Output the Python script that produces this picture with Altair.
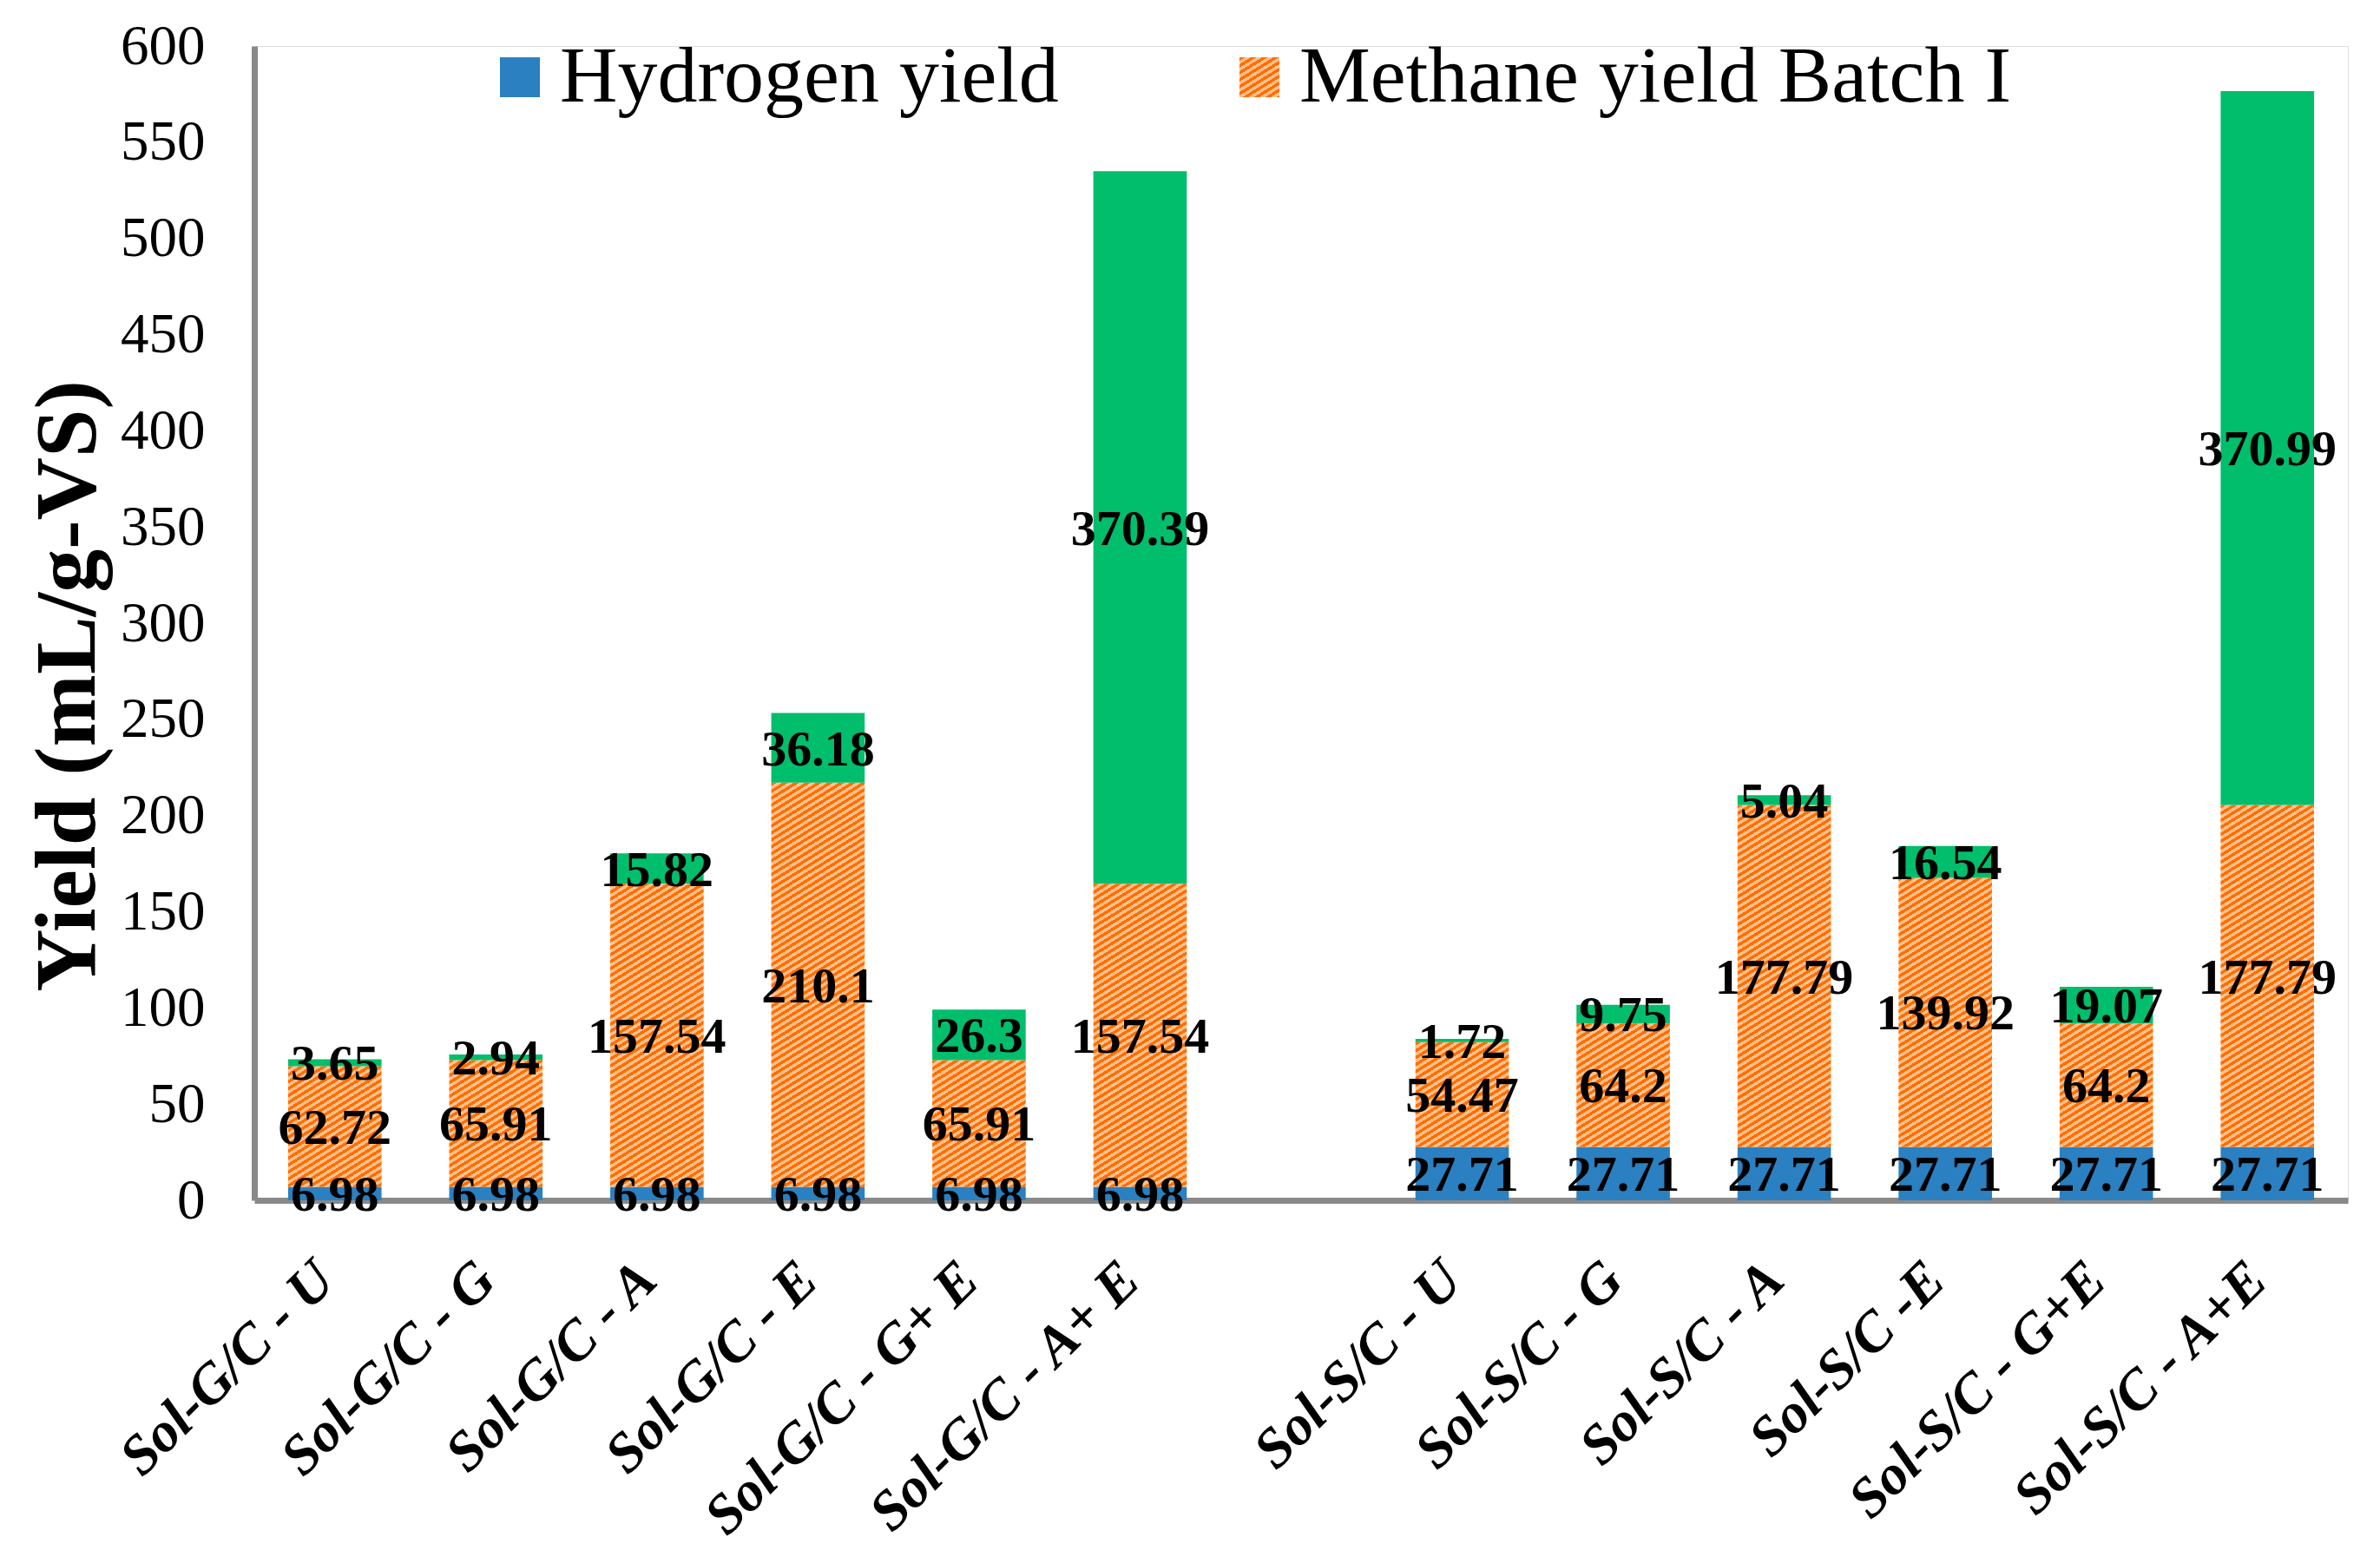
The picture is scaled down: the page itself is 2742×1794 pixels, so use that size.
import json
import altair as alt
import pandas as pd

# ---- data ----
categories = ["Sol-G/C - U", "Sol-G/C - G", "Sol-G/C - A", "Sol-G/C - E",
              "Sol-G/C - G+ E", "Sol-G/C - A+ E",
              "Sol-S/C - U", "Sol-S/C - G", "Sol-S/C - A", "Sol-S/C -E",
              "Sol-S/C - G+E", "Sol-S/C - A+E"]
hydrogen = [6.98, 6.98, 6.98, 6.98, 6.98, 6.98,
            27.71, 27.71, 27.71, 27.71, 27.71, 27.71]
methane_1 = [62.72, 65.91, 157.54, 210.1, 65.91, 157.54,
             54.47, 64.2, 177.79, 139.92, 64.2, 177.79]
methane_2 = [3.65, 2.94, 15.82, 36.18, 26.3, 370.39,
             1.72, 9.75, 5.04, 16.54, 19.07, 370.99]
y_ticks = [0, 50, 100, 150, 200, 250, 300, 350, 400, 450, 500, 550, 600]
legend_labels = ["Hydrogen yield", "Methane yield Batch I"]

df = pd.DataFrame({"cat": categories, "h": hydrogen, "m1": methane_1, "m2": methane_2})
domain = categories[:6] + [" "] + categories[6:]

# ---- style ----
FONT = "Liberation Serif"
BLUE = "#2A80C0"
GREEN = "#00BE6B"
DARK = "#FF6E00"
LIGHT = "#FFC18C"
AXIS_GREY = "#898989"

W, H = 2412, 1330
PXU = H / 600.0
BW = (W / 13.0) * 0.58
PX, PY = 13.0, 8.0      # stripe period along x and along y (pixels)
NCYC = 80

stops = []
for i in range(NCYC):
    a, b, c = i / NCYC, (i + 0.5) / NCYC, (i + 1) / NCYC
    stops += [{"offset": round(a, 5), "color": DARK}, {"offset": round(b, 5), "color": DARK},
              {"offset": round(b, 5), "color": LIGHT}, {"offset": round(c, 5), "color": LIGHT}]
STOPS = json.dumps(stops)
KF = PXU * PX / (BW * PY)          # k = m1 * KF
SF = NCYC * PX / BW                # s = SF / (1 + k^2)
grad_expr = (
    "{gradient: 'linear', x1: 0, y1: 0, "
    f"x2: {SF} / (1 + pow(datum.m1 * {KF}, 2)), "
    f"y2: {SF} * datum.m1 * {KF} / (1 + pow(datum.m1 * {KF}, 2)), "
    f"stops: {STOPS}}}"
)
LS = 46.0
KL = PX / PY
SL = NCYC * PX / (LS * (1 + KL * KL))
legend_grad_expr = f"{{gradient: 'linear', x1: 0, y1: 0, x2: {SL}, y2: {SL * KL}, stops: {STOPS}}}"

xenc = alt.X(
    "cat:N",
    scale=alt.Scale(domain=domain, paddingInner=0.42, paddingOuter=0.21),
    title=None,
    axis=alt.Axis(
        labelAngle=315, labelAlign="right", labelBaseline="alphabetic",
        labelPadding=95, labelOffset=3, ticks=False, tickSize=0,
        domainColor=AXIS_GREY, domainWidth=7, labelFont=FONT, labelFontSize=65,
        labelFontWeight="bold", labelFontStyle="italic", labelColor="black",
        labelLimit=3000, labelOverlap=False, labelBound=False, zindex=0,
    ),
)


def yenc(field):
    return alt.Y(
        field,
        scale=alt.Scale(domain=[0, 600], nice=False),
        title="Yield (mL/g-VS)",
        axis=alt.Axis(
            values=y_ticks, grid=False, ticks=False, tickSize=0,
            domainColor=AXIS_GREY, domainWidth=7, labelFont=FONT, labelFontSize=65,
            labelColor="black", labelPadding=57, labelFlush=False, labelOverlap=False,
            titleFont=FONT, titleFontSize=100, titleFontWeight="bold", titleColor="black",
            titleAngle=270, titleX=-185, titleY=737, titleBaseline="alphabetic",
            titleAlign="center", zindex=0,
        ),
    )


base = alt.Chart(df).transform_calculate(
    t1="datum.h + datum.m1",
    t2="datum.h + datum.m1 + datum.m2",
    l0="datum.h / 2",
    l1="datum.h + datum.m1 / 2",
    l2="datum.h + datum.m1 + datum.m2 / 2",
    lab="'Hydrogen yield'",
    grad=grad_expr,
)

h_bar = base.mark_bar().encode(
    x=xenc,
    y=yenc("h:Q"),
    color=alt.Color(
        "lab:N",
        scale=alt.Scale(domain=legend_labels, range=[BLUE, alt.ExprRef(legend_grad_expr)]),
        legend=alt.Legend(
            orient="none", legendX=260, legendY=-10, direction="horizontal", title=None,
            labelFont=FONT, labelFontSize=92, labelColor="black", labelLimit=3000,
            symbolType="square", symbolSize=LS * LS, symbolStrokeWidth=0, symbolOpacity=1,
            labelOffset=0, columnPadding=185, padding=0,
            values=legend_labels,
        ),
    ),
)

m1_bar = base.mark_bar().encode(
    x=xenc, y=yenc("h:Q"), y2="t1:Q",
    fill=alt.Fill("grad:N", scale=None),
)

m2_bar = base.mark_bar(color=GREEN).encode(
    x=xenc, y=yenc("t1:Q"), y2="t2:Q",
)

txt = dict(font=FONT, fontSize=58, fontWeight="bold", color="black", baseline="middle", dy=3)
t0 = base.mark_text(**txt).encode(x=xenc, y=yenc("l0:Q"), text=alt.Text("h:Q", format="~g"))
t1 = base.mark_text(**txt).encode(x=xenc, y=yenc("l1:Q"), text=alt.Text("m1:Q", format="~g"))
t2 = base.mark_text(**txt).encode(x=xenc, y=yenc("l2:Q"), text=alt.Text("m2:Q", format="~g"))

chart = alt.layer(h_bar, m1_bar, m2_bar, t0, t1, t2).properties(
    width=W, height=H,
    autosize=alt.AutoSizeParams(type="none"),
    padding={"left": 285, "top": 45, "right": 29, "bottom": 403},
).configure_view(stroke=None).configure(background="white")

chart.save("out.html", embed_options={"renderer": "svg", "actions": False})
